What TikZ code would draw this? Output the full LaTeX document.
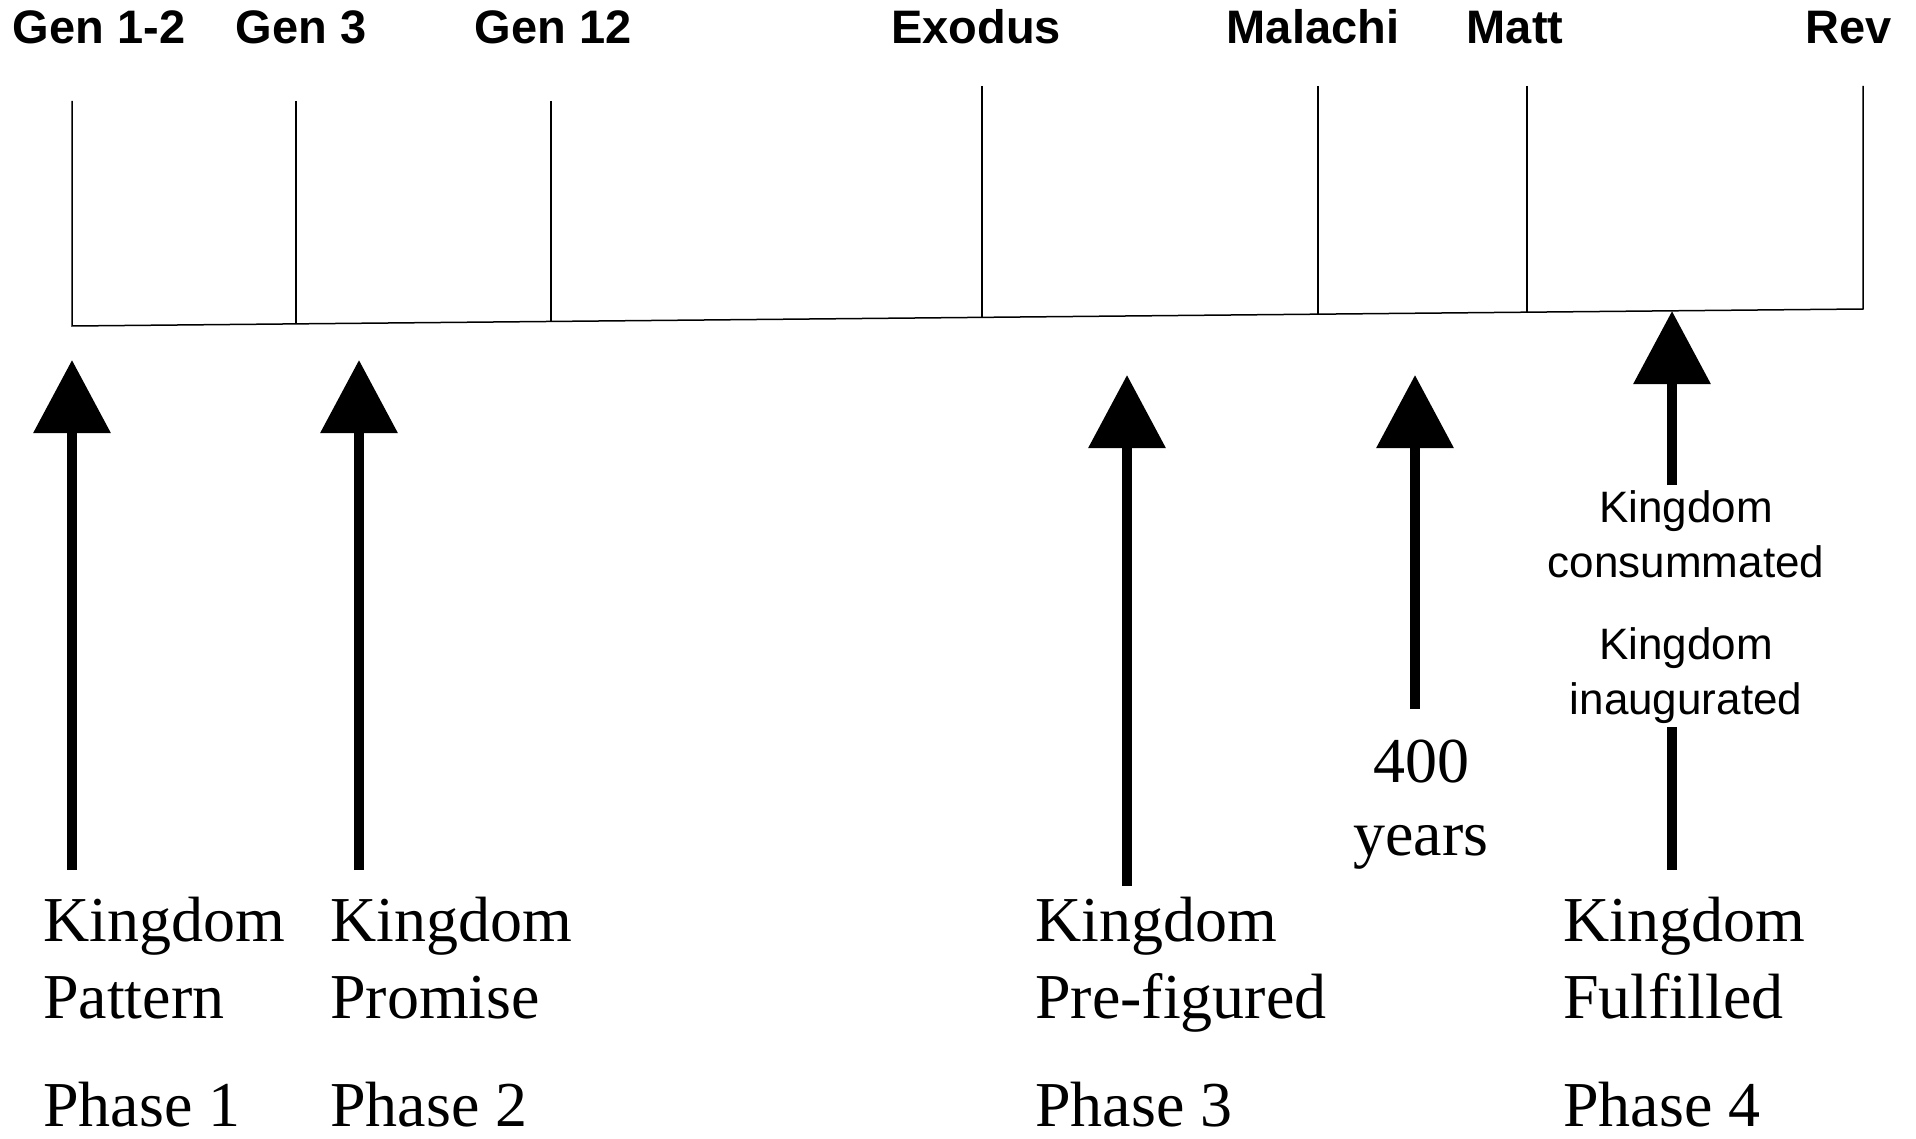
\documentclass[tikz,border=0pt]{standalone}
\usepackage{fontspec}
\setmainfont{Liberation Serif}
\newfontfamily\hsans{Liberation Sans}
\usetikzlibrary{arrows.meta}
\begin{document}
\begin{tikzpicture}[x=1pt,y=-1pt,
  toplabel/.style={font=\hsans\bfseries\fontsize{47}{56}\selectfont, anchor=base, inner sep=0pt},
  serifline/.style={font=\fontsize{64}{77}\selectfont, anchor=base west, inner sep=0pt},
  serifmid/.style={font=\fontsize{64}{77}\selectfont, anchor=base, inner sep=0pt},
  smallsans/.style={font=\hsans\fontsize{44}{53}\selectfont, anchor=base, inner sep=0pt},
  tickline/.style={line width=1.5pt},
  bigarrow/.style={line width=10pt, -{Triangle[width=75pt,length=73pt]}},
  shaft/.style={line width=10pt}]
\useasboundingbox (0,0) rectangle (1916,1139);
% top labels
\node[toplabel] (lab1) at (99,44) {Gen 1-2};
\node[toplabel] (lab2) at (301,44) {Gen 3};
\node[toplabel] (lab3) at (553,44) {Gen 12};
\node[toplabel] (lab4) at (976,44) {Exodus};
\node[toplabel] (lab5) at (1313,44) {Malachi};
\node[toplabel] (lab6) at (1515,44) {Matt};
\node[toplabel] (lab7) at (1849,44) {Rev};
% tick coordinates
\coordinate (t1) at (72,101);   \coordinate (b1) at (72,326);
\coordinate (t2) at (296,101);  \coordinate (b2) at (296,324);
\coordinate (t3) at (551,101);  \coordinate (b3) at (551,321.5);
\coordinate (t4) at (982,86);   \coordinate (b4) at (982,317.4);
\coordinate (t5) at (1318,86);  \coordinate (b5) at (1318,314.2);
\coordinate (t6) at (1527,86);  \coordinate (b6) at (1527,312.2);
\coordinate (t7) at (1863,86);  \coordinate (b7) at (1863,309);
\draw[tickline, line join=miter] (t1) -- (b1) -- (b7) -- (t7);
\foreach \i in {2,...,6} {\draw[tickline] (t\i) -- (b\i);}
% arrows
\coordinate (a1top) at (72,360);   \coordinate (a1bot) at (72,870);
\coordinate (a2top) at (359,360);  \coordinate (a2bot) at (359,870);
\coordinate (a3top) at (1127,375); \coordinate (a3bot) at (1127,886);
\coordinate (a4top) at (1415,375); \coordinate (a4bot) at (1415,709);
\coordinate (a5top) at (1672,311); \coordinate (a5bot) at (1672,485);
\coordinate (s5top) at (1672,727); \coordinate (s5bot) at (1672,870);
\draw[bigarrow] (a1bot) -- (a1top);
\draw[bigarrow] (a2bot) -- (a2top);
\draw[bigarrow] (a3bot) -- (a3top);
\draw[bigarrow] (a4bot) -- (a4top);
\draw[bigarrow] (a5bot) -- (a5top);
\draw[shaft] (s5top) -- (s5bot);
% small sans labels
\node[smallsans] (cons1) at (1686,522) {Kingdom};
\node[smallsans] (cons2) at (1686,577) {consummated};
\node[smallsans] (inau1) at (1686,659) {Kingdom};
\node[smallsans] (inau2) at (1686,714) {inaugurated};
% 400 years
\node[serifmid] (four) at (1421,782) {400};
\node[serifmid] (years) at (1421,855) {years};
% bottom labels
\node[serifline] (k1a) at (43,941) {Kingdom};
\node[serifline] (k1b) at (43,1018) {Pattern};
\node[serifline] (p1) at (43,1126) {Phase 1};
\node[serifline] (k2a) at (330,941) {Kingdom};
\node[serifline] (k2b) at (330,1018) {Promise};
\node[serifline] (p2) at (330,1126) {Phase 2};
\node[serifline] (k3a) at (1035,941) {Kingdom};
\node[serifline] (k3b) at (1035,1018) {Pre-figured};
\node[serifline] (p3) at (1035,1126) {Phase 3};
\node[serifline] (k4a) at (1563,941) {Kingdom};
\node[serifline] (k4b) at (1563,1018) {Fulfilled};
\node[serifline] (p4) at (1563,1126) {Phase 4};
\end{tikzpicture}
\end{document}
